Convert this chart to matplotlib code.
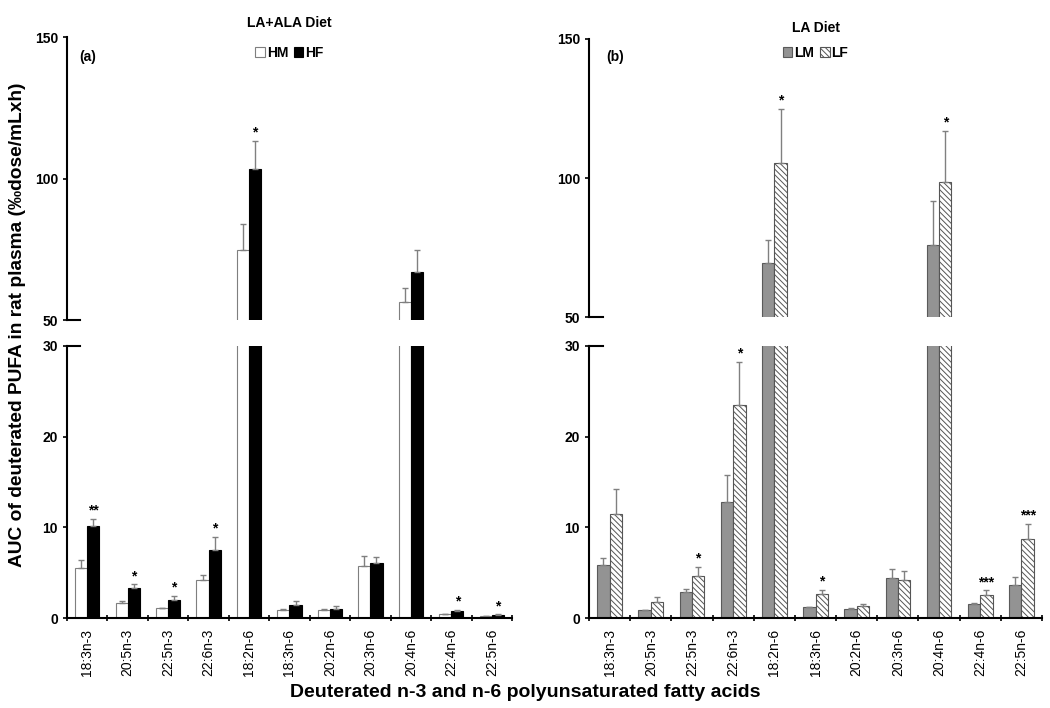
import matplotlib
matplotlib.use('Agg')
import matplotlib.pyplot as plt
import numpy as np
from matplotlib.patches import Patch

acids = ['18:3n-3', '20:5n-3', '22:5n-3', '22:6n-3', '18:2n-6', '18:3n-6',
         '20:2n-6', '20:3n-6', '20:4n-6', '22:4n-6', '22:5n-6']

# panel (a) LA+ALA diet
hm = [5.5, 1.7, 1.06, 4.2, 74.7, 0.88, 0.85, 5.75, 56.2, 0.4, 0.2]
hm_err = [0.9, 0.2, 0.05, 0.5, 9.4, 0.07, 0.15, 1.1, 5.0, 0.05, 0.02]
hf = [10.1, 3.3, 2.0, 7.5, 103.3, 1.4, 1.0, 6.05, 66.8, 0.73, 0.33]
hf_err = [0.8, 0.4, 0.45, 1.4, 9.9, 0.5, 0.35, 0.7, 8.1, 0.12, 0.07]
stars_a = ['**', '*', '*', '*', '*', '', '', '', '', '*', '*']

# panel (b) LA diet
lm = [5.87, 0.84, 2.9, 12.83, 69.5, 1.17, 1.03, 4.4, 75.8, 1.54, 3.67]
lm_err = [0.7, 0.06, 0.3, 2.9, 8.1, 0.08, 0.07, 1.0, 15.9, 0.15, 0.9]
lf = [11.48, 1.72, 4.66, 23.47, 105.5, 2.6, 1.36, 4.18, 98.7, 2.49, 8.73]
lf_err = [2.8, 0.55, 1.0, 4.8, 19.3, 0.5, 0.24, 1.0, 18.1, 0.55, 1.65]
stars_b = ['', '', '*', '*', '*', '*', '', '', '*', '***', '***']

plt.rcParams['font.family'] = ['Liberation Sans', 'DejaVu Sans']
plt.rcParams['hatch.linewidth'] = 0.7

fig = plt.figure(figsize=(10.5, 7.08), dpi=100)

w = 0.3
x = np.arange(len(acids))
ecol = '#808080'


def draw_panel(ax_t, ax_b, v1, e1, v2, e2, stars, st1, st2):
    for ax in (ax_t, ax_b):
        ax.bar(x - w / 2, v1, w, **st1)
        ax.bar(x + w / 2, v2, w, **st2)
        ax.errorbar(x - w / 2, v1, yerr=[np.zeros(len(v1)), e1], fmt='none',
                    ecolor=ecol, elinewidth=1, capsize=2.5, capthick=1)
        ax.errorbar(x + w / 2, v2, yerr=[np.zeros(len(v2)), e2], fmt='none',
                    ecolor=ecol, elinewidth=1, capsize=2.5, capthick=1)
        ax.set_xlim(-0.5, len(acids) - 0.5)
        for s in ('top', 'right'):
            ax.spines[s].set_visible(False)
        ax.spines['left'].set_linewidth(1.5)
        ax.tick_params(axis='y', direction='out', length=3, width=1.2, labelsize=10)
    ax_t.set_ylim(50, 150)
    ax_t.set_yticks([50, 100, 150])
    ax_b.set_ylim(0, 30)
    ax_b.set_yticks([0, 10, 20, 30])
    for ax in (ax_t, ax_b):
        for lab in ax.get_yticklabels():
            lab.set_fontweight('bold')
    ax_t.spines['bottom'].set_visible(False)
    ax_t.set_xticks([])
    ax_t.axhline(50, xmin=0, xmax=0.03, color='k', lw=1.5, clip_on=False)
    ax_b.axhline(30, xmin=0, xmax=0.03, color='k', lw=1.5, clip_on=False)
    ax_b.spines['bottom'].set_linewidth(1.5)
    ax_b.set_xticks(x)
    ax_b.set_xticklabels(acids, rotation=90, fontsize=10)
    ax_b.set_xticks(np.arange(-0.5, len(acids)), minor=True)
    ax_b.tick_params(axis='x', which='major', length=0, pad=8)
    ax_b.tick_params(axis='x', which='minor', length=4, width=1.2, direction='inout')
    for i, s in enumerate(stars):
        if not s:
            continue
        top = v2[i] + e2[i]
        ax = ax_t if top > 30 else ax_b
        ax.annotate(s, (x[i] + w / 2, top), xytext=(0, 1), textcoords='offset points',
                    ha='center', va='bottom', fontsize=10, fontweight='bold')


st_hm = dict(facecolor='white', edgecolor='#7f7f7f', linewidth=0.8)
st_hf = dict(facecolor='black', edgecolor='black', linewidth=0.8)
st_lm = dict(facecolor='#939393', edgecolor='#5a5a5a', linewidth=0.8)
st_lf = dict(facecolor='white', edgecolor='#555555', linewidth=0.8, hatch='\\\\\\\\\\\\')

ax_at = fig.add_axes([0.0638, 0.548, 0.4238, 0.3997])
ax_ab = fig.add_axes([0.0638, 0.1271, 0.4238, 0.3842])
ax_bt = fig.add_axes([0.561, 0.552, 0.4314, 0.393])
ax_bb = fig.add_axes([0.561, 0.1271, 0.4314, 0.3842])

draw_panel(ax_at, ax_ab, hm, hm_err, hf, hf_err, stars_a, st_hm, st_hf)
draw_panel(ax_bt, ax_bb, lm, lm_err, lf, lf_err, stars_b, st_lm, st_lf)

ax_at.text(0.5, 1.05, 'LA+ALA Diet', transform=ax_at.transAxes, ha='center',
           va='center', fontsize=10, fontweight='bold')
ax_bt.text(0.5, 1.04, 'LA Diet', transform=ax_bt.transAxes, ha='center',
           va='center', fontsize=10, fontweight='bold')
ax_at.text(0.047, 0.93, '(a)', transform=ax_at.transAxes, ha='center',
           va='center', fontsize=10, fontweight='bold')
ax_bt.text(0.057, 0.935, '(b)', transform=ax_bt.transAxes, ha='center',
           va='center', fontsize=10, fontweight='bold')

leg_kw = dict(loc='center', ncol=2, frameon=False, handlelength=0.7,
              handleheight=0.7, handletextpad=0.15, columnspacing=0.4,
              prop={'weight': 'bold', 'size': 10})
ax_at.legend(handles=[Patch(**st_hm, label='HM'), Patch(**st_hf, label='HF')],
             bbox_to_anchor=(0.5, 0.945), **leg_kw)
ax_bt.legend(handles=[Patch(**st_lm, label='LM'), Patch(**st_lf, label='LF')],
             bbox_to_anchor=(0.5, 0.95), **leg_kw)

fig.text(0.017, 0.542, 'AUC of deuterated PUFA in rat plasma (\u2030dose/mLxh)',
         rotation=90, ha='center', va='center', fontsize=13.8, fontweight='bold')
fig.text(0.5, 0.022, 'Deuterated n-3 and n-6 polyunsaturated fatty acids',
         ha='center', va='center', fontsize=14, fontweight='bold')

fig.savefig('out.png', dpi=100)
